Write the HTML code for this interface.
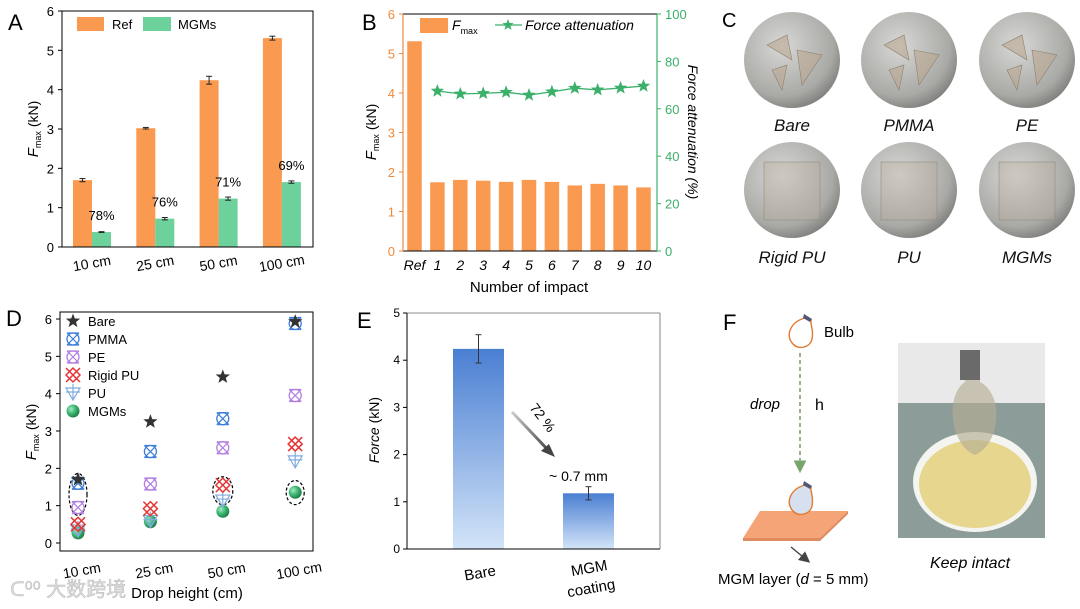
<!DOCTYPE html>
<html><head><meta charset="utf-8"><style>
html,body{margin:0;padding:0;background:#fff;}
svg{display:block;font-family:"Liberation Sans","Noto Sans CJK SC",sans-serif;}
</style></head><body>
<svg id="fig" width="1080" height="609" viewBox="0 0 1080 609" xmlns="http://www.w3.org/2000/svg">
<defs>
<linearGradient id="gBlue" x1="0" y1="0" x2="0" y2="1"><stop offset="0" stop-color="#4a7fd2"/><stop offset="1" stop-color="#d3e4f8"/></linearGradient>
<radialGradient id="gBall" cx="0.35" cy="0.35" r="0.7"><stop offset="0" stop-color="#a8e8c4"/><stop offset="0.5" stop-color="#3cb872"/><stop offset="1" stop-color="#1d7a45"/></radialGradient>
<linearGradient id="gArrow" x1="0" y1="0" x2="1" y2="1"><stop offset="0" stop-color="#ccc"/><stop offset="1" stop-color="#444"/></linearGradient>
<radialGradient id="gDisk" cx="0.4" cy="0.35" r="0.75"><stop offset="0" stop-color="#d8d8d6"/><stop offset="0.7" stop-color="#a9a9a6"/><stop offset="1" stop-color="#6e6e6c"/></radialGradient>
<marker id="mArr" markerWidth="8" markerHeight="8" refX="6" refY="4" orient="auto"><path d="M0,0 L8,4 L0,8 z" fill="#444"/></marker>
<marker id="mArrG" markerWidth="8" markerHeight="8" refX="6" refY="4" orient="auto"><path d="M0,0 L8,4 L0,8 z" fill="#7aa56a"/></marker>
</defs>
<g id="pA"></g>
<g id="pB"></g>
<g id="pC"></g>
<g id="pD"></g>
<g id="pE"></g>
<g id="pF"></g>
</svg>
<script>
// ---- Panel A data
const aCats = ["10 cm","25 cm","50 cm","100 cm"];
const aRef = [1.70, 3.02, 4.24, 5.31];
const aRefErr = [0.04, 0.02, 0.10, 0.05];
const aMGM = [0.38, 0.72, 1.23, 1.65];
const aMGMErr = [0.01, 0.03, 0.04, 0.03];
const aPct = ["78%","76%","71%","69%"];
const aTicks = [0,1,2,3,4,5,6];
// ---- Panel B data
const bCats = ["Ref","1","2","3","4","5","6","7","8","9","10"];
const bFmax = [5.31,1.74,1.80,1.78,1.75,1.80,1.75,1.66,1.70,1.66,1.61];
const bAtten = [67.5,66.3,66.5,67.0,65.8,67.2,68.7,68.0,68.8,69.6];
const bLeftTicks = [0,1,2,3,4,5,6];
const bRightTicks = [0,20,40,60,80,100];
// ---- Panel D data
const dCats = ["10 cm","25 cm","50 cm","100 cm"];
const dSeries = ["Bare","PMMA","PE","Rigid PU","PU","MGMs"];
const dBare = [1.70, 3.25, 4.45, 5.93];
const dPMMA = [1.60, 2.45, 3.33, 5.88];
const dPE = [0.95, 1.58, 2.55, 3.95];
const dRigidPU = [0.50, 0.92, 1.55, 2.65];
const dPU = [0.35, 0.60, 1.15, 2.20];
const dMGMs = [0.27, 0.57, 0.85, 1.36];
const dTicks = [0,1,2,3,4,5,6];
// ---- Panel E data
const eCats = ["Bare","MGM coating"];
const eVals = [4.24, 1.18];
const eErr = [0.30, 0.14];
const eTicks = [0,1,2,3,4,5];

const NS="http://www.w3.org/2000/svg";
function mk(parent, tag, attrs, text){
  const e=document.createElementNS(NS,tag);
  for(const k in attrs) e.setAttribute(k,attrs[k]);
  if(text!==undefined) e.textContent=text;
  parent.appendChild(e); return e;
}
function starPath(cx,cy,R){
  let d="";const r=R*0.42;
  for(let i=0;i<10;i++){const a=-Math.PI/2+i*Math.PI/5;const rr=i%2?r:R;
    d+=(i?"L":"M")+(cx+rr*Math.cos(a)).toFixed(2)+","+(cy+rr*Math.sin(a)).toFixed(2);}
  return d+"Z";
}
function linY(v0,v1,p0,p1){return v=>p0+(v-v0)/(v1-v0)*(p1-p0);}

// ================= Panel A
(function(){
  const g=document.getElementById('pA');
  const L=62,R=313,T=11,B=247;
  const y=linY(0,6,B,T);
  const cx=i=>92+i*63.3;
  const bw=19;
  let t=mk(g,'text',{x:8,y:30,'font-size':22},'A');
  
  aTicks.forEach(v=>{
    mk(g,'line',{x1:L-4,x2:L,y1:y(v),y2:y(v),stroke:'#000','stroke-width':1});
    const tl=mk(g,'text',{x:L-8,y:y(v)+5,'font-size':13,'text-anchor':'end'},v);
    
  });
  aCats.forEach((c,i)=>{
    const r=mk(g,'rect',{x:cx(i)-bw,y:y(aRef[i]),width:bw,height:B-y(aRef[i]),fill:'#fa9a50'});
    
    const m=mk(g,'rect',{x:cx(i),y:y(aMGM[i]),width:bw,height:B-y(aMGM[i]),fill:'#6dd19c'});
    
    [[cx(i)-bw/2,aRef[i],aRefErr[i]],[cx(i)+bw/2,aMGM[i],aMGMErr[i]]].forEach(([x,v,e])=>{
      mk(g,'line',{x1:x,x2:x,y1:y(v+e),y2:y(v-e),stroke:'#222','stroke-width':1});
      mk(g,'line',{x1:x-3,x2:x+3,y1:y(v+e),y2:y(v+e),stroke:'#222','stroke-width':1});
      mk(g,'line',{x1:x-3,x2:x+3,y1:y(v-e),y2:y(v-e),stroke:'#222','stroke-width':1});
    });
    const p=mk(g,'text',{x:cx(i)+bw/2,y:y(aMGM[i])-12,'font-size':13,'text-anchor':'middle'},aPct[i]);
    
    const xl=mk(g,'text',{x:cx(i),y:268,'font-size':14,'text-anchor':'middle',transform:`rotate(-10 ${cx(i)} 264)`},c);
    
  });
  mk(g,'rect',{x:L,y:T,width:R-L,height:B-T,fill:'none',stroke:'#000','stroke-width':1});
  mk(g,'rect',{x:77,y:17,width:27,height:14,fill:'#fa9a50'});
  mk(g,'text',{x:112,y:29,'font-size':13},'Ref');
  mk(g,'rect',{x:143,y:17,width:28,height:14,fill:'#6dd19c'});
  mk(g,'text',{x:178,y:29,'font-size':13},'MGMs');
  const yt=mk(g,'text',{transform:'translate(38,129) rotate(-90)','font-size':14,'text-anchor':'middle'});
  
  yt.innerHTML='<tspan font-style="italic" font-size="15">F</tspan><tspan font-size="9" dy="3">max</tspan><tspan dy="-3"> (kN)</tspan>';
})();

// ================= Panel B
(function(){
  const g=document.getElementById('pB');
  const L=403,R=657,T=14,B=251;
  const y=linY(0,6,B,T), y2=linY(0,100,B,T);
  const cx=i=>414.5+i*22.9;
  const bw=14.5, OR='#f08a3c', GR='#3bb06a';
  mk(g,'text',{x:362,y:30,'font-size':22},'B');
  bCats.forEach((c,i)=>{
    const r=mk(g,'rect',{x:cx(i)-bw/2,y:y(bFmax[i]),width:bw,height:B-y(bFmax[i]),fill:'#fa9a50'});
    
    const xl=mk(g,'text',{x:cx(i),y:270,'font-size':14,'font-style':'italic','text-anchor':'middle'},c);
    
  });
  let d="";
  bAtten.forEach((v,i)=>{d+=(i?"L":"M")+cx(i+1)+","+y2(v);});
  const ln=mk(g,'path',{d:d,fill:'none',stroke:GR,'stroke-width':1.3});
  
  bAtten.forEach((v,i)=>{
    const s=mk(g,'path',{d:starPath(cx(i+1),y2(v),7),fill:GR});
    
  });
  mk(g,'line',{x1:L,x2:R,y1:T,y2:T,stroke:'#000'});
  mk(g,'line',{x1:L,x2:R,y1:B,y2:B,stroke:'#000'});
  mk(g,'line',{x1:L,x2:L,y1:T,y2:B,stroke:OR,'stroke-width':1.2});
  mk(g,'line',{x1:R,x2:R,y1:T,y2:B,stroke:GR,'stroke-width':1.2});
  bLeftTicks.forEach(v=>{
    mk(g,'line',{x1:L-4,x2:L,y1:y(v),y2:y(v),stroke:OR});
    mk(g,'text',{x:L-8,y:y(v)+5,'font-size':13,fill:OR,'text-anchor':'end'},v);
  });
  bRightTicks.forEach(v=>{
    mk(g,'line',{x1:R,x2:R+4,y1:y2(v),y2:y2(v),stroke:GR});
    mk(g,'text',{x:R+8,y:y2(v)+5,'font-size':13,fill:GR},v);
  });
  mk(g,'rect',{x:420,y:18,width:28,height:15,fill:'#fa9a50'});
  const lf=mk(g,'text',{x:452,y:30,'font-size':14});
  
  lf.innerHTML='<tspan font-style="italic">F</tspan><tspan font-size="9" dy="4">max</tspan>';
  mk(g,'line',{x1:495,x2:522,y1:25,y2:25,stroke:GR,'stroke-width':1.3});
  mk(g,'path',{d:starPath(508,25,6),fill:GR});
  mk(g,'text',{x:525,y:30,'font-size':14,'font-style':'italic'},'Force attenuation');
  mk(g,'text',{x:529,y:292,'font-size':15,'text-anchor':'middle'},'Number of impact');
  const yt=mk(g,'text',{transform:'translate(376,132) rotate(-90)','font-size':14,'text-anchor':'middle'});
  
  yt.innerHTML='<tspan font-style="italic" font-size="15">F</tspan><tspan font-size="9" dy="3">max</tspan><tspan dy="-3"> (kN)</tspan>';
  mk(g,'text',{transform:'translate(688,132) rotate(90)','font-size':14,'font-style':'italic','text-anchor':'middle'},'Force attenuation (%)');
})();

// ================= Panel C
(function(){
  const g=document.getElementById('pC');
  mk(g,'text',{x:722,y:27,'font-size':20},'C');
  const names=["Bare","PMMA","PE","Rigid PU","PU","MGMs"];
  const xs=[792,909,1027];
  names.forEach((n,i)=>{
    const cx=xs[i%3], cy=i<3?60:190, ly=i<3?131:263;
    const c=mk(g,'circle',{cx:cx,cy:cy,r:48,fill:'url(#gDisk)'});
    
    if(i>=3) mk(g,'rect',{x:cx-28,y:cy-28,width:56,height:58,fill:'#b9ae9c','fill-opacity':0.35,stroke:'#8a8478','stroke-width':0.5});
    else {
      mk(g,'path',{d:`M${cx-25},${cy-15} L${cx-5},${cy-25} L${cx},${cy} Z M${cx+5},${cy-10} L${cx+30},${cy-5} L${cx+10},${cy+25} Z M${cx-20},${cy+10} L${cx-5},${cy+5} L${cx-10},${cy+30} Z`,fill:'#b9a78f','fill-opacity':0.6,stroke:'#8d8070','stroke-width':0.6});
    }
    const t=mk(g,'text',{x:cx,y:ly,'font-size':17,'font-style':'italic','text-anchor':'middle',fill:'#111'},n);
    
  });
})();

// ================= Panel D
(function(){
  const g=document.getElementById('pD');
  const L=60,R=313,T=312,B=551;
  const y=linY(0,6,543,319);
  const cx=i=>78+i*72.4;
  mk(g,'text',{x:6,y:326,'font-size':22},'D');
  dTicks.forEach(v=>{
    mk(g,'line',{x1:L-4,x2:L,y1:y(v),y2:y(v),stroke:'#000'});
    mk(g,'text',{x:L-8,y:y(v)+5,'font-size':13,'text-anchor':'end'},v);
  });
  function marker(kind,x,yy){
    const gg=mk(g,'g',{});
    if(kind==="Bare"){mk(gg,'path',{d:starPath(x,yy,7.5),fill:'#333'});}
    else if(kind==="PMMA"||kind==="PE"){const c=kind==="PMMA"?'#3b7dd8':'#b27ee0';
      mk(gg,'circle',{cx:x,cy:yy,r:6,fill:'none',stroke:c,'stroke-width':1.3});
      mk(gg,'path',{d:`M${x-6},${yy-6}L${x+6},${yy+6}M${x+6},${yy-6}L${x-6},${yy+6}M${x-6},${yy-6}H${x+6}M${x-6},${yy+6}H${x+6}`,stroke:c,'stroke-width':1.2});}
    else if(kind==="Rigid PU"){const c='#e53535';
      mk(gg,'path',{d:`M${x-7},${yy-7}L${x+7},${yy+7}M${x+7},${yy-7}L${x-7},${yy+7}M${x-7},${yy}L${x},${yy-7}L${x+7},${yy}L${x},${yy+7}Z`,stroke:c,'stroke-width':1.5,fill:'none'});}
    else if(kind==="PU"){const c='#80acdc';
      mk(gg,'path',{d:`M${x-7},${yy-5}H${x+7}L${x},${yy+7}Z M${x},${yy-9}V${yy+7}M${x-7},${yy-1}H${x+7}`,stroke:c,'stroke-width':1.2,fill:'none'});}
    else {mk(gg,'circle',{cx:x,cy:yy,r:6.5,fill:'url(#gBall)'});}
    return gg;
  }
  const series=[dBare,dPMMA,dPE,dRigidPU,dPU,dMGMs];
  // ellipses
  [[0,1.3,9,21],[2,1.4,10,14],[3,1.35,9,12]].forEach(([i,v,rx,ry])=>{
    const e=mk(g,'ellipse',{cx:cx(i),cy:y(v),rx:rx,ry:ry,fill:'none',stroke:'#000','stroke-dasharray':'3,2','stroke-width':1.2});
    
  });
  series.slice().reverse().forEach((arr,ri)=>{
    const k=dSeries[dSeries.length-1-ri];
    arr.forEach((v,i)=>{
      const m=marker(k,cx(i),y(v));
      
      
    });
  });
  dSeries.forEach((k,i)=>{
    const ly=321+i*18;
    marker(k,73,ly);
    const t=mk(g,'text',{x:88,y:ly+5,'font-size':13},k);
    
  });
  mk(g,'rect',{x:L,y:T,width:R-L,height:B-T,fill:'none',stroke:'#000'});
  dCats.forEach((c,i)=>{
    mk(g,'text',{x:cx(i)+4,y:576,'font-size':14,'text-anchor':'middle',transform:`rotate(-10 ${cx(i)} 572)`},c);
  });
  mk(g,'text',{x:187,y:598,'font-size':15,'text-anchor':'middle'},'Drop height (cm)');
  mk(g,'text',{x:10,y:596,'font-size':20,fill:'#ddd',stroke:'#bbb','stroke-width':0.5},'ᑕ⁰⁰ 大数跨境');
  const yt=mk(g,'text',{transform:'translate(36,432) rotate(-90)','font-size':14,'text-anchor':'middle'});
  
  yt.innerHTML='<tspan font-style="italic" font-size="15">F</tspan><tspan font-size="9" dy="3">max</tspan><tspan dy="-3"> (kN)</tspan>';
})();

// ================= Panel E
(function(){
  const g=document.getElementById('pE');
  const L=407,R=660,T=313,B=549;
  const y=linY(0,5,B,T);
  const cx=[478.5,588.5], bw=51;
  mk(g,'text',{x:357,y:328,'font-size':22},'E');
  eTicks.forEach(v=>{
    mk(g,'line',{x1:L-4,x2:L,y1:y(v),y2:y(v),stroke:'#000'});
    mk(g,'text',{x:L-7,y:y(v)+4,'font-size':12,'text-anchor':'end'},v);
  });
  eVals.forEach((v,i)=>{
    const r=mk(g,'rect',{x:cx[i]-bw/2,y:y(v),width:bw,height:B-y(v),fill:'url(#gBlue)'});
    
    const e=eErr[i],x=cx[i];
    mk(g,'line',{x1:x,x2:x,y1:y(v+e),y2:y(v-e),stroke:'#333'});
    mk(g,'line',{x1:x-3,x2:x+3,y1:y(v+e),y2:y(v+e),stroke:'#333'});
    mk(g,'line',{x1:x-3,x2:x+3,y1:y(v-e),y2:y(v-e),stroke:'#333'});
  });
  mk(g,'line',{x1:L,x2:R,y1:B,y2:B,stroke:'#000'});
  mk(g,'line',{x1:L,x2:L,y1:T,y2:B,stroke:'#000'});
  mk(g,'line',{x1:L,x2:R,y1:T,y2:T,stroke:'#666','stroke-width':0.8});
  mk(g,'line',{x1:R,x2:R,y1:T,y2:B,stroke:'#666','stroke-width':0.8});
  mk(g,'path',{d:'M512,412 L549,451',stroke:'url(#gArrow)','stroke-width':3,fill:'none'});
  mk(g,'path',{d:'M555,457 L541,451 L549,444 Z',fill:'#444'});
  mk(g,'text',{x:0,y:0,'font-size':14,transform:'translate(529,408) rotate(52)'},'72 %');
  mk(g,'text',{x:549,y:481,'font-size':14},'~ 0.7 mm');
  mk(g,'text',{x:480,y:578,'font-size':15,'text-anchor':'middle',transform:'rotate(-10 480 573)'},'Bare');
  mk(g,'text',{x:0,y:0,'font-size':15,'text-anchor':'middle',transform:'translate(590,573) rotate(-10)'},'MGM');
  mk(g,'text',{x:0,y:0,'font-size':15,'text-anchor':'middle',transform:'translate(592,593) rotate(-10)'},'coating');
  const yt=mk(g,'text',{transform:'translate(379,430) rotate(-90)','font-size':14,'text-anchor':'middle'});
  
  yt.innerHTML='<tspan font-style="italic">Force</tspan> (kN)';
})();

// ================= Panel F
(function(){
  const g=document.getElementById('pF');
  mk(g,'text',{x:723,y:330,'font-size':22},'F');
  function bulb(x,yy,fill){
    const b=mk(g,'g',{});
    mk(b,'path',{d:`M${x+5},${yy-18} C${x-10},${yy-14} ${x-15},${yy} ${x-7},${yy+8} C${x-2},${yy+14} ${x+10},${yy+12} ${x+12},${yy+3} C${x+14},${yy-6} ${x+10},${yy-12} ${x+11},${yy-16} Z`,fill:fill,stroke:'#e07a30','stroke-width':1.4});
    mk(b,'path',{d:`M${x+4},${yy-22} L${x+12},${yy-17} L${x+10},${yy-14} L${x+3},${yy-18}Z`,fill:'#557'});
    return b;
  }
  bulb(800,336,'#fff');
  mk(g,'text',{x:824,y:337,'font-size':15},'Bulb');
  mk(g,'line',{x1:800,x2:800,y1:353,y2:470,stroke:'#7aa56a','stroke-width':1.6,'stroke-dasharray':'4,3','marker-end':'url(#mArrG)'});
  mk(g,'text',{x:750,y:409,'font-size':15,'font-style':'italic'},'drop');
  mk(g,'text',{x:815,y:410,'font-size':16},'h');
  mk(g,'path',{d:'M760,511 L848,511 L820,538 L743,538 Z',fill:'#f5a478'});
  mk(g,'path',{d:'M743,538 L820,538 L820,541 L743,541 Z',fill:'#e08a60'});
  mk(g,'path',{d:'M820,538 L848,511 L848,514 L820,541 Z',fill:'#e08a60'});
  bulb(800,503,'#d6e0ee');
  mk(g,'line',{x1:791,x2:808,y1:547,y2:561,stroke:'#444','stroke-width':1.4,'marker-end':'url(#mArr)'});
  const t=mk(g,'text',{x:718,y:584,'font-size':15});
  
  t.innerHTML='MGM layer (<tspan font-style="italic">d</tspan> = 5 mm)';
  // photo
  const ph=mk(g,'g',{});
  mk(ph,'rect',{x:898,y:343,width:147,height:195,fill:'#8c9c98'});
  mk(ph,'rect',{x:898,y:343,width:147,height:60,fill:'#e9e9ea'});
  mk(ph,'ellipse',{cx:975,cy:482,rx:62,ry:50,fill:'#f4f4f0'});
  mk(ph,'ellipse',{cx:975,cy:484,rx:56,ry:44,fill:'#e6d68e'});
  mk(ph,'path',{d:'M960,352 h20 v30 C1005,395 1000,445 975,455 C950,445 945,395 965,382 Z',fill:'#b5ad93','fill-opacity':0.65});
  mk(ph,'rect',{x:960,y:350,width:20,height:30,fill:'#6a6a6a'});
  mk(g,'text',{x:970,y:568,'font-size':16,'font-style':'italic','text-anchor':'middle'},'Keep intact');
})();
</script>
</body></html>
